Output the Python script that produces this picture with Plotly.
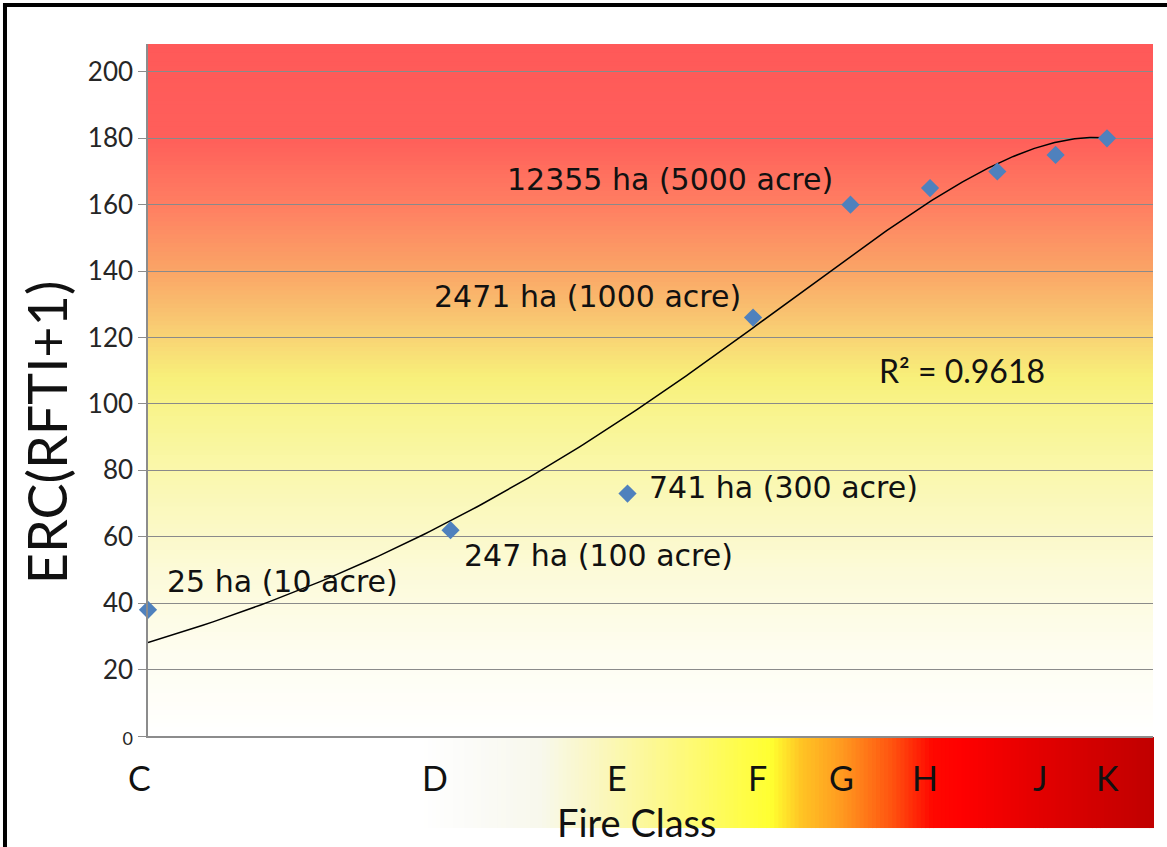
import numpy as np
import plotly.graph_objects as go

# ---------------- data ----------------
fire_size_rank = [1, 2, 3, 4, 5, 6, 7, 8, 9]
erc_values = [38, 62, 73, 126, 160, 165, 170, 175, 180]

fire_classes = ["C", "D", "E", "F", "G", "H", "J", "K"]
class_x = [0.98, 1.93, 2.93, 4.04, 4.90, 5.93, 7.72, 9.02]

size_labels = ["25 ha (10 acre)", "247 ha (100 acre)", "741 ha (300 acre)",
               "2471 ha (1000 acre)", "12355 ha (5000 acre)"]
size_label_x = [1.04, 2.053, 3.137, 1.917, 2.266]
size_label_y = [46.4, 54.5, 74.7, 132.5, 167.5]

y_ticks = [0, 20, 40, 60, 80, 100, 120, 140, 160, 180, 200]
r2_text = "R² = 0.9618"

# ---------------- trendline (2nd order polynomial) ----------------
coef = np.polyfit(fire_size_rank, erc_values, 2)
trend_x = np.linspace(1, 9, 300)
trend_y = np.polyval(coef, trend_x)

Y_MAX = 208.4


def hex2rgb(h):
    h = h.lstrip("#")
    return np.array([int(h[i:i + 2], 16) for i in (0, 2, 4)], dtype=float)


def interp_color(stops, v):
    pos = [s[0] for s in stops]
    cols = np.array([hex2rgb(s[1]) for s in stops])
    rgb = [np.interp(v, pos, cols[:, k]) for k in range(3)]
    return "rgb(%d,%d,%d)" % tuple(int(round(c)) for c in rgb)


# vertical gradient of the plot area (by ERC value)
bg_stops = [(0, "#FFFFFF"), (25, "#FEFDF0"), (50, "#FCFAD8"), (75, "#FAF8B4"),
            (95, "#F9F592"), (108, "#F8F07A"), (125, "#F9C872"), (140, "#FAA566"),
            (160, "#FF7E62"), (180, "#FF5F5A"), (Y_MAX, "#FF5959")]
# horizontal gradient of the fire-class band (paper x)
band_stops = [(0.2706, "#FFFFFF"), (0.32, "#FBFBF8"), (0.39, "#F8F8EC"),
              (0.44, "#FAF7C6"), (0.49, "#FCF89E"), (0.55, "#FEFA6C"),
              (0.62, "#FFFF30"), (0.65, "#FFC424"), (0.69, "#FF9A20"),
              (0.74, "#FF5410"), (0.78, "#FF0800"), (0.81, "#FF0000"),
              (0.88, "#E50000"), (1.0, "#C00000")]

shapes = []
n_bg = 160
edges = np.linspace(0, Y_MAX, n_bg + 1)
for i in range(n_bg):
    shapes.append(dict(type="rect", xref="paper", yref="y", x0=0, x1=1,
                       y0=edges[i], y1=edges[i + 1] + 0.3,
                       fillcolor=interp_color(bg_stops, (edges[i] + edges[i + 1]) / 2),
                       line=dict(width=0), layer="below"))

band_y0, band_y1 = -0.133, -0.0015
n_band = 180
bx = np.linspace(0.2706, 1.0, n_band + 1)
for i in range(n_band):
    shapes.append(dict(type="rect", xref="paper", yref="paper", x0=bx[i], x1=bx[i + 1] + 0.001,
                       y0=band_y0, y1=band_y1,
                       fillcolor=interp_color(band_stops, (bx[i] + bx[i + 1]) / 2),
                       line=dict(width=0), layer="below"))

# outer frame (left + top)
shapes.append(dict(type="line", xref="paper", yref="paper", x0=-0.1423, x1=-0.1423,
                   y0=-0.3, y1=1.0564, line=dict(color="black", width=4)))
shapes.append(dict(type="line", xref="paper", yref="paper", x0=-0.1443, x1=1.2,
                   y0=1.0564, y1=1.0564, line=dict(color="black", width=4)))

fig = go.Figure()
fig.add_trace(go.Scatter(x=trend_x, y=trend_y, mode="lines",
                         line=dict(color="black", width=1.5), hoverinfo="skip",
                         showlegend=False, cliponaxis=False))
fig.add_trace(go.Scatter(x=fire_size_rank, y=erc_values, mode="markers",
                         marker=dict(symbol="diamond", size=14, color="#4F81BD",
                                     line=dict(width=0)),
                         showlegend=False, cliponaxis=False))

annotations = []
for txt, lx, ly in zip(size_labels, size_label_x, size_label_y):
    annotations.append(dict(x=np.log10(lx), y=ly, xref="x", yref="y", text=txt,
                            showarrow=False, xanchor="left", yanchor="middle",
                            font=dict(family="DejaVu Sans", size=30, color="#111111")))
annotations.append(dict(x=np.log10(5.314), y=110.2, xref="x", yref="y", text=r2_text,
                        showarrow=False, xanchor="left", yanchor="middle",
                        font=dict(family="Lato", size=32, color="#111111")))
for c, cx in zip(fire_classes, class_x):
    # x axis spans exactly one decade (1..10), so paper x = log10(value)
    annotations.append(dict(x=float(np.log10(cx)), y=-0.0595, xref="paper", yref="paper", text=c,
                            showarrow=False, xanchor="center", yanchor="middle",
                            font=dict(family="Lato", size=34, color="#111111")))
annotations.append(dict(x=0.4866, y=-0.1604, xref="paper", yref="paper", text="Fire Class",
                        showarrow=False, xanchor="center", yanchor="bottom",
                        font=dict(family="Lato", size=38, color="#111111")))
annotations.append(dict(x=-0.1015, y=0.439, xref="paper", yref="paper", text="ERC(RFTI+1)",
                        showarrow=False, xanchor="center", yanchor="middle", textangle=-90,
                        font=dict(family="Lato", size=54, color="#111111")))

tick_text = ["<span style='font-size:18px'>0</span>"] + [str(v) for v in y_ticks[1:]]

fig.update_layout(
    width=1167, height=847,
    margin=dict(l=148, r=14, t=44, b=111),
    paper_bgcolor="white", plot_bgcolor="white",
    shapes=shapes, annotations=annotations,
    xaxis=dict(type="log", range=[0, 1], showgrid=False, showticklabels=False,
               showline=True, linecolor="#8C8C8C", linewidth=1.5, ticks="",
               zeroline=False, fixedrange=True),
    yaxis=dict(range=[0, Y_MAX], tickvals=y_ticks, ticktext=tick_text,
               showgrid=True, gridcolor="#8A8A8A", gridwidth=1.4,
               showline=True, linecolor="#8C8C8C", linewidth=1.5,
               ticks="outside", ticklen=8, tickcolor="#8C8C8C", tickwidth=1.4,
               tickfont=dict(family="Lato", size=26, color="#262626"),
               zeroline=False, fixedrange=True),
    hovermode=False,
)

fig.write_html("out.html", config={"displayModeBar": False},
               post_script="document.body.style.margin='0';document.body.style.overflow='hidden';")
